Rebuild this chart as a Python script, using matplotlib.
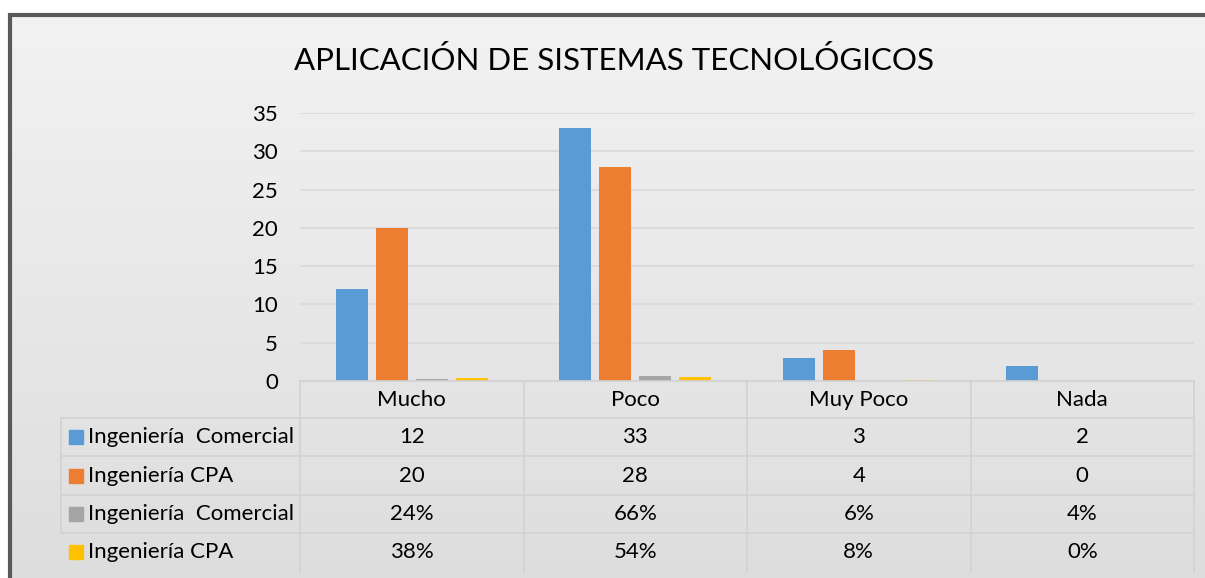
import numpy as np
import matplotlib.pyplot as plt
import matplotlib.transforms as mtransforms
from matplotlib.patches import Rectangle

plt.rcParams['font.family'] = ['Lato', 'DejaVu Sans']

categories = ['Mucho', 'Poco', 'Muy Poco', 'Nada']
series_names = ['Ingeniería  Comercial', 'Ingeniería CPA', 'Ingeniería  Comercial', 'Ingeniería CPA']
comercial = [12, 33, 3, 2]
cpa = [20, 28, 4, 0]
comercial_pct = [0.24, 0.66, 0.06, 0.04]
cpa_pct = [0.38, 0.54, 0.08, 0.00]
colors = ['#5b9bd5', '#ed7d31', '#a5a5a5', '#ffc000']

W, H = 1205, 578
fig = plt.figure(figsize=(W / 100, H / 100), dpi=100)
fig.patch.set_facecolor('white')

# gradient background inside the frame
bg = fig.add_axes([8 / W, 0, 1 - 8 / W, 1 - 13 / H])
grad = np.linspace(0.95, 0.868, 256).reshape(-1, 1)
bg.imshow(np.dstack([grad, grad, grad]), aspect='auto', extent=[0, 1, 0, 1])
bg.set_axis_off()
fig.patches.append(Rectangle((9.5 / W, -0.1), 1.2, 1 - 14.5 / H + 0.1,
                             transform=fig.transFigure, fill=False,
                             edgecolor='#595959', linewidth=3))

def fx(px):
    return px / W

def fy(py):
    return 1 - py / H

fs = 16

ax = fig.add_axes([fx(300), fy(381), fx(1194) - fx(300), fy(113) - fy(381)])
ax.patch.set_alpha(0)
x = np.arange(len(categories))
offsets = [-0.268, -0.089, 0.089, 0.268]
for vals, off, c in zip([comercial, cpa, comercial_pct, cpa_pct], offsets, colors):
    ax.bar(x + off, vals, width=0.143, color=c, zorder=3)
ax.set_xlim(-0.5, len(categories) - 0.5)
ax.set_ylim(0, 35)
ax.set_yticks(range(0, 36, 5))
ax.yaxis.grid(True, color='#d9d9d9', linewidth=1.2)
ax.set_axisbelow(True)
ax.set_xticks([])
for s in ax.spines.values():
    s.set_visible(False)
ax.tick_params(axis='y', length=0, labelsize=fs, pad=16)

fig.text(fx(614), fy(61), 'APLICACIÓN DE SISTEMAS TECNOLÓGICOS',
         ha='center', va='center', fontsize=22.5)

# data table below the plot
line_c = '#d2d2d2'
row_edges = [381, 418, 456, 495, 533, 571]
trans = mtransforms.blended_transform_factory(ax.transData, fig.transFigure)
for k in range(len(categories) + 1):
    ax.plot([k - 0.5, k - 0.5], [fy(381), fy(571)], transform=trans,
            color=line_c, lw=1.2, clip_on=False)
fig.add_artist(plt.Line2D([fx(300), fx(1194)], [fy(381), fy(381)], color=line_c, lw=1.2))
for r in row_edges[1:-1]:
    fig.add_artist(plt.Line2D([fx(61), fx(1194)], [fy(r), fy(r)], color=line_c, lw=1.2))
fig.add_artist(plt.Line2D([fx(61), fx(61)], [fy(418), fy(533)], color=line_c, lw=1.2))

for i, cat in enumerate(categories):
    ax.text(i, fy(400), cat, transform=trans, ha='center', va='center', fontsize=fs)

rows = [[str(v) for v in comercial], [str(v) for v in cpa],
        ['%d%%' % round(v * 100) for v in comercial_pct],
        ['%d%%' % round(v * 100) for v in cpa_pct]]
for r, (name, c, vals) in enumerate(zip(series_names, colors, rows)):
    yc = (row_edges[r + 1] + row_edges[r + 2]) / 2
    fig.patches.append(Rectangle((fx(69), fy(yc + 7)), fx(14), 14 / H,
                                 transform=fig.transFigure, color=c))
    fig.text(fx(88), fy(yc), name, ha='left', va='center', fontsize=fs)
    for i, v in enumerate(vals):
        ax.text(i, fy(yc), v, transform=trans, ha='center', va='center', fontsize=fs)

fig.savefig('out.png', dpi=100)
